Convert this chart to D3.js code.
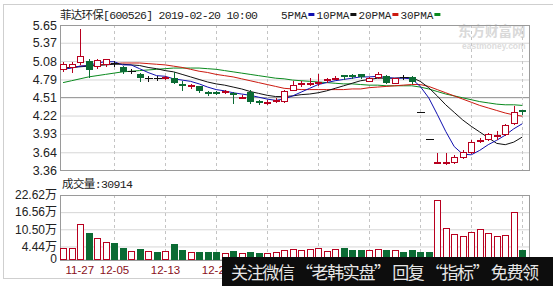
<!DOCTYPE html>
<html lang="zh">
<meta charset="utf-8">
<title>菲达环保 日K线</title>
<style>
  body { margin: 0; background: #fff; }
  svg { display: block; }
</style>
<body>
<script src="https://d3js.org/d3.v7.min.js"></script>
<script>
// daily candles 2018-11-27 .. 2019-02-20 (55 trading days)
var opens  = [4.95,4.98,5.07,5.08,5.00,5.03,5.05,4.99,4.93,4.88, 4.81,4.81,4.81,4.82,4.72,4.69,4.68,4.59,4.59,4.59,
              4.58,4.51,4.59,4.45,4.43,4.46,4.45,4.63,4.72,4.73, 4.73,4.78,4.81,4.86,4.86,4.87,4.77,4.83,4.84,4.74,
              4.83,4.83,4.28,3.85,3.47,3.48,3.49,3.57,3.65,3.82, 3.85,3.90,3.93,4.10,4.30];
var highs  = [5.07,5.07,5.58,5.12,5.11,5.12,5.08,5.01,4.96,4.89, 4.84,4.84,4.85,4.91,4.77,4.72,4.69,4.61,4.61,4.63,
              4.59,4.55,4.63,4.47,4.46,4.50,4.62,4.77,4.76,4.81, 4.88,4.82,4.85,4.86,4.87,4.88,4.83,4.90,4.86,4.82,
              4.86,4.85,4.28,3.85,3.63,3.63,3.59,3.67,3.83,3.86, 3.94,3.98,4.08,4.37,4.31];
var lows   = [4.92,4.90,5.04,4.83,4.97,5.01,5.01,4.89,4.89,4.76, 4.77,4.78,4.80,4.73,4.63,4.66,4.59,4.55,4.56,4.57,
              4.42,4.49,4.42,4.41,4.41,4.44,4.44,4.62,4.69,4.70, 4.70,4.75,4.79,4.80,4.82,4.82,4.76,4.82,4.73,4.73,
              4.80,4.73,4.28,3.85,3.47,3.46,3.47,3.55,3.63,3.80, 3.84,3.85,3.92,4.08,4.24];
var closes = [5.04,5.03,5.16,4.94,5.09,5.11,5.05,4.91,4.93,4.81, 4.81,4.81,4.83,4.74,4.71,4.70,4.60,4.58,4.58,4.60,
              4.54,4.52,4.44,4.44,4.44,4.47,4.60,4.71,4.73,4.74, 4.75,4.79,4.82,4.85,4.85,4.83,4.82,4.87,4.74,4.81,
              4.83,4.75,4.28,3.85,3.48,3.49,3.57,3.65,3.81,3.84, 3.93,3.92,4.07,4.28,4.27];

// volume in 万股, and bar colour (1 = red hollow, 0 = green solid)
var volumes = [3.9,3.9,12.4,9.2,7.4,6.0,5.7,3.9,2.8,3.5, 2.8,2.5,2.8,5.3,3.2,2.5,2.5,2.5,2.5,2.1,
               2.8,2.1,2.5,2.1,2.1,2.3,3.2,3.5,3.2,3.5, 3.8,2.8,3.4,3.8,3.2,3.2,3.2,3.5,3.2,3.2,
               2.6,3.2,2.5,2.5,20.7,10.9,8.8,8.1,9.4,10.5, 9.3,8.0,8.5,16.5,3.0914];
var volUp   = [1,1,1,0,1,1,0,0,1,0, 1,0,1,0,0,1,0,0,0,1, 0,1,0,0,1,1,1,1,1,1,
               1,1,1,0,0,0,1,1,0,1, 0,0,0,0,1,1,1,1,1,1, 1,1,1,1,0];

// moving averages as drawn
var ma5  = [4.95,4.97,5.00,5.01,5.05,5.07,5.07,5.02,5.02,4.96, 4.90,4.85,4.84,4.80,4.78,4.76,4.72,4.67,4.63,4.61,
            4.58,4.56,4.54,4.51,4.48,4.46,4.48,4.53,4.59,4.65, 4.71,4.74,4.77,4.79,4.81,4.83,4.83,4.84,4.82,4.81,
            4.81,4.80,4.68,4.50,4.24,3.97,3.73,3.61,3.60,3.67, 3.76,3.83,3.91,4.01,4.09];
var ma10 = [4.97,4.98,4.99,5.00,5.01,5.02,5.03,5.03,5.02,5.01, 4.98,4.96,4.93,4.91,4.87,4.83,4.79,4.75,4.72,4.70,
            4.67,4.64,4.60,4.57,4.54,4.52,4.52,4.53,4.55,4.56, 4.58,4.61,4.65,4.69,4.73,4.77,4.79,4.81,4.81,4.81,
            4.82,4.82,4.76,4.66,4.53,4.39,4.27,4.15,4.05,3.96, 3.87,3.78,3.76,3.80,3.88];
var ma20 = [4.96,4.98,5.00,5.01,5.02,5.03,5.04,5.05,5.05,5.05, 5.04,5.03,5.02,5.00,4.98,4.95,4.92,4.90,4.87,4.85,
            4.83,4.80,4.77,4.74,4.71,4.68,4.65,4.64,4.63,4.63, 4.63,4.63,4.63,4.63,4.64,4.64,4.66,4.67,4.68,4.69,
            4.70,4.71,4.71,4.68,4.63,4.58,4.53,4.48,4.43,4.38, 4.34,4.30,4.26,4.23,4.21];
var ma30 = [4.74,4.77,4.80,4.83,4.85,4.87,4.89,4.91,4.92,4.93, 4.94,4.95,4.96,4.97,4.97,4.97,4.97,4.96,4.95,4.93,
            4.91,4.89,4.87,4.85,4.83,4.81,4.80,4.78,4.77,4.76, 4.75,4.74,4.73,4.72,4.72,4.71,4.70,4.70,4.69,4.69,
            4.69,4.69,4.67,4.64,4.60,4.56,4.53,4.50,4.47,4.44, 4.42,4.40,4.39,4.39,4.38];

var priceTicks = [5.65, 5.37, 5.08, 4.79, 4.51, 4.22, 3.93, 3.64, 3.36];
var volTicks = [22.62, 16.56, 10.50, 4.44, 0];
var gridIdx = [6, 12, 18, 24, 30, 36, 42, 48, 54];
// only these date labels are visible, the rest sit under the banner
var dateIdx = [0, 6, 12, 18];
var dateLabels = ["11-27", "12-05", "12-13", "12-21"];
var maNames = ["5PMA", "10PMA", "20PMA", "30PMA"];

var RED = "#b8001f", GREEN = "#0b6b34";
var maColors = ["#1010b0", "#111111", "#cc1a10", "#0a8a1e"];
var CJK = "'Noto Sans CJK SC', sans-serif";
var MONO = "'Liberation Mono', 'Noto Sans CJK SC', monospace";

var W = 553, H = 286;
var left = 60, right = 529;
var pTop = 25, pBot = 170, vTop = 195, vBot = 259;

var svg = d3.select("body").append("svg").attr("width", W).attr("height", H)
  .style("font-family", "'Liberation Sans', Arial, sans-serif");

var idx = d3.range(closes.length);
var x = d3.scaleBand().domain(idx).range([58.8, 526.5]);
function cx(i) { return Math.round(x(i) + x.bandwidth() / 2) + 0.5; }
var y = d3.scaleLinear().domain([3.36, 5.65]).range([pBot, pTop]);
var yv = d3.scaleLinear().domain([0, 22.62]).range([vBot, vTop]);

// outer frame
svg.append("rect").attr("x", 3.5).attr("y", 4.5).attr("width", 570).attr("height", 274)
  .attr("fill", "none").attr("stroke", "#cfcfcf");

// watermark
svg.append("text").attr("x", 458).attr("y", 36).text("东方财富网")
  .attr("font-family", CJK).attr("font-size", 13.5).attr("font-weight", "bold").attr("fill", "#d9d9d9");
svg.append("text").attr("x", 462).attr("y", 49).text("eastmoney.com")
  .attr("font-size", 8.5).attr("font-weight", "bold").attr("fill", "#dcdcdc");

// price grid + labels
var gy = svg.append("g").attr("transform", "translate(" + left + ",0)")
  .call(d3.axisLeft(y).tickValues(priceTicks).tickSize(-(right - left))
    .tickPadding(3).tickFormat(d3.format(".2f")));
gy.select(".domain").remove();
gy.selectAll(".tick line").attr("stroke", function(d) { return d === 4.51 ? "#8a8a8a" : "#d6d6d6"; });
gy.selectAll(".tick text").attr("font-size", 12.5).attr("fill", "#222")
  .attr("font-family", "'Liberation Sans', Arial, sans-serif");

// volume grid + labels
var gv = svg.append("g").attr("transform", "translate(" + left + ",0)")
  .call(d3.axisLeft(yv).tickValues(volTicks).tickSize(-(right - left)).tickPadding(3)
    .tickFormat(function(d) { return d === 0 ? "0" : d.toFixed(2) + "万"; }));
gv.select(".domain").remove();
gv.selectAll(".tick line").attr("stroke", "#d6d6d6");
gv.selectAll(".tick text").attr("font-size", 12).attr("fill", "#222")
  .attr("font-family", "'Liberation Sans', 'Noto Sans CJK SC', sans-serif");

// vertical dashed grid in both panels
[[pTop, pBot], [vTop, vBot]].forEach(function(p) {
  svg.append("g").selectAll("line").data(gridIdx).join("line")
    .attr("x1", cx).attr("x2", cx).attr("y1", p[0]).attr("y2", p[1])
    .attr("stroke", "#c4c4c4").attr("stroke-dasharray", "3,3");
});

// panel frames
[[pTop, pBot], [vTop, vBot + 1]].forEach(function(p) {
  svg.append("rect").attr("x", left + 0.5).attr("y", p[0] + 0.5)
    .attr("width", right - left).attr("height", p[1] - p[0])
    .attr("fill", "none").attr("stroke", "#9a9a9a");
});

// moving averages
var ma = [ma5, ma10, ma20, ma30];
var line = d3.line().x(function(d, i) { return x(i) + x.bandwidth() / 2; }).y(function(d) { return y(d); });
ma.slice().reverse().forEach(function(s, k) {
  svg.append("path").datum(s).attr("d", line).attr("fill", "none")
    .attr("stroke", maColors[3 - k]).attr("stroke-width", 1);
});

// candles
function candleColor(i) {
  if (closes[i] > opens[i]) return RED;
  if (closes[i] < opens[i]) return GREEN;
  return "#111";
}
var gc = svg.append("g").attr("shape-rendering", "crispEdges");
gc.selectAll("line.wick").data(idx).join("line").attr("class", "wick")
  .attr("x1", cx).attr("x2", cx)
  .attr("y1", function(i) { return Math.round(y(highs[i])); })
  .attr("y2", function(i) { return Math.round(y(lows[i])) + 1; })
  .attr("stroke", candleColor);
idx.forEach(function(i) {
  var o = Math.round(y(opens[i])), c = Math.round(y(closes[i])), X = cx(i);
  if (closes[i] > opens[i]) {
    gc.append("rect").attr("x", X - 3).attr("y", c + 0.5)
      .attr("width", 6).attr("height", Math.max(o - c, 1))
      .attr("fill", "#fff").attr("stroke", RED);
  } else if (closes[i] < opens[i]) {
    gc.append("rect").attr("x", X - 3.5).attr("y", o)
      .attr("width", 7).attr("height", Math.max(c - o, 2))
      .attr("fill", GREEN);
  } else {
    gc.append("line").attr("x1", X - 4).attr("x2", X + 4)
      .attr("y1", c + 0.5).attr("y2", c + 0.5).attr("stroke", "#111");
  }
});

// volume bars
var gb = svg.append("g").attr("shape-rendering", "crispEdges");
idx.forEach(function(i) {
  var top = Math.round(yv(volumes[i])), X = cx(i);
  if (volUp[i]) {
    gb.append("rect").attr("x", X - 3).attr("y", top + 0.5)
      .attr("width", 6).attr("height", vBot - top)
      .attr("fill", "#fff").attr("stroke", RED);
  } else {
    gb.append("rect").attr("x", X - 3.5).attr("y", top)
      .attr("width", 7).attr("height", vBot + 1 - top).attr("fill", GREEN);
  }
});

// date labels
svg.append("g").selectAll("text").data(dateIdx).join("text")
  .attr("x", function(d, k) { return k === 0 ? cx(d) + 2 : cx(d); })
  .attr("y", 274)
  .attr("text-anchor", function(d, k) { return k === 0 ? "start" : "middle"; })
  .attr("font-size", 11.5).attr("fill", "#8a1020")
  .text(function(d, k) { return dateLabels[k]; });

// title + legend
svg.append("text").attr("x", 60).attr("y", 19).attr("font-family", MONO)
  .attr("font-size", 11.5).attr("fill", "#222").attr("textLength", 198)
  .text("菲达环保[600526] 2019-02-20 10:00");
var lx = 281;
maNames.forEach(function(name, k) {
  var w = name.length * 6.6;
  svg.append("text").attr("x", lx).attr("y", 19).attr("font-family", MONO)
    .attr("font-size", 11).attr("fill", "#222").text(name);
  svg.append("rect").attr("x", lx + w + 1).attr("y", 13).attr("width", 6).attr("height", 3)
    .attr("fill", maColors[k]);
  lx += w + 9;
});

svg.append("text").attr("x", 62).attr("y", 188).attr("font-family", MONO)
  .attr("font-size", 11.5).attr("fill", "#222").attr("textLength", 71)
  .text("成交量:" + Math.round(volumes[volumes.length - 1] * 10000));

// banner overlay
svg.append("rect").attr("x", 222).attr("y", 257).attr("width", 331).attr("height", 29).attr("fill", "#0d0d0d");
svg.append("text").attr("x", 231).attr("y", 279).attr("font-family", CJK)
  .attr("font-size", 17).attr("fill", "#e6e6e6").attr("textLength", 308)
  .text("关注微信 “老韩实盘” 回复 “指标” 免费领");
</script>
</body>
</html>
